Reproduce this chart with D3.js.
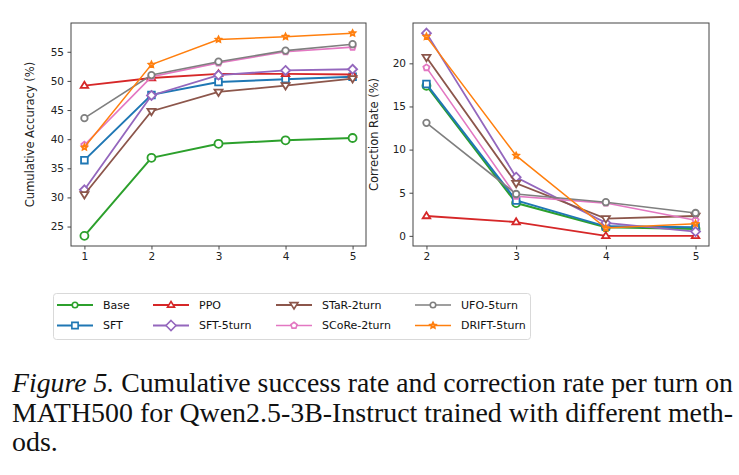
<!DOCTYPE html>
<html lang="en">
<head>
  <meta charset="utf-8">
  <title>Figure 5</title>
  <script src="https://cdn.jsdelivr.net/npm/d3@7"></script>
  <style>
    body { margin: 0; background: #fff; }
    svg { display: block; }
  </style>
</head>
<body>
  <svg width="739" height="475" id="mainsvg"></svg>
  <script>
    const svg = d3.select('#mainsvg');

    // data
    const methods = ['Base', 'SFT', 'PPO', 'SFT-5turn', 'STaR-2turn', 'SCoRe-2turn', 'UFO-5turn', 'DRIFT-5turn'];
    const colors = ['#2ca02c', '#1f77b4', '#d62728', '#9467bd', '#8c564b', '#e377c2', '#7f7f7f', '#ff7f0e'];
    const shapes = ['circle', 'square', 'triUp', 'diamond', 'triDown', 'pentagon', 'circle', 'star'];
    const turnsAcc = [1, 2, 3, 4, 5];
    const turnsCorr = [2, 3, 4, 5];
    const accTicks = [25, 30, 35, 40, 45, 50, 55];
    const corrTicks = [0, 5, 10, 15, 20];

    const accuracy = [
      [23.4, 36.8, 39.2, 39.8, 40.2],
      [36.4, 47.6, 49.8, 50.3, 50.7],
      [49.2, 50.5, 51.2, 51.2, 51.1],
      [31.3, 47.5, 51.0, 51.8, 52.0],
      [30.5, 44.8, 48.1, 49.2, 50.4],
      [39.0, 50.7, 53.1, 55.0, 55.8],
      [43.6, 51.0, 53.3, 55.2, 56.3],
      [38.6, 52.8, 57.1, 57.6, 58.2]
    ];
    const correction = [
      [17.4, 3.8, 1.0, 0.8],
      [17.6, 4.1, 1.1, 1.0],
      [2.3, 1.6, 0.0, 0.0],
      [23.5, 6.8, 1.5, 0.5],
      [20.7, 6.1, 2.0, 2.3],
      [19.5, 4.6, 3.8, 1.8],
      [13.1, 4.85, 3.9, 2.65],
      [23.1, 9.3, 0.9, 1.4]
    ];

    // styles
    const lineW = [2, 2, 1.8, 1.8, 1.8, 1.6, 1.6, 1.5];
    const markSize = [8, 7.5, 7.5, 9, 8, 6.5, 6.5, 5.5];
    const legendMark = [5.5, 7, 7, 10, 8, 6.5, 5.5, 5.5];

    function markerPath(shape, s) {
      const r = s / 2;
      if (shape === 'circle') return d3.symbol(d3.symbolCircle, Math.PI * r * r)();
      if (shape === 'square') return d3.symbol(d3.symbolSquare, s * s * 0.8)();
      if (shape === 'diamond') {
        return `M0,${-r}L${r},0L0,${r}L${-r},0Z`;
      }
      if (shape === 'triUp' || shape === 'triDown') {
        const k = shape === 'triUp' ? 1 : -1;
        return `M0,${-r * k}L${r},${r * 0.6 * k}L${-r},${r * 0.6 * k}Z`;
      }
      if (shape === 'pentagon') {
        const pts = d3.range(5).map(i => {
          const a = -Math.PI / 2 + i * 2 * Math.PI / 5;
          return [r * Math.cos(a), r * Math.sin(a)];
        });
        return 'M' + pts.map(p => p.join(',')).join('L') + 'Z';
      }
      if (shape === 'star') {
        const pts = d3.range(10).map(i => {
          const a = -Math.PI / 2 + i * Math.PI / 5;
          const rr = i % 2 === 0 ? r : r * 0.5;
          return [rr * Math.cos(a), rr * Math.sin(a)];
        });
        return 'M' + pts.map(p => p.join(',')).join('L') + 'Z';
      }
    }

    function padded(vals) {
      const [lo, hi] = d3.extent(vals);
      const p = (hi - lo) * 0.05;
      return [lo - p, hi + p];
    }

    function drawPanel(opts) {
      const { left, right, top, bottom, xs, series, yTicks, label, labelX } = opts;
      const xScale = d3.scaleLinear()
        .domain(padded(xs))
        .range([left, right]);
      const yScale = d3.scaleLinear()
        .domain(padded(series.flat()))
        .range([bottom, top]);

      const g = svg.append('g');

      const xAxis = d3.axisBottom(xScale).tickValues(xs).tickFormat(d3.format('d'))
        .tickSize(3.5).tickPadding(3.5);
      const yAxis = d3.axisLeft(yScale).tickValues(yTicks).tickFormat(d3.format('d'))
        .tickSize(3.5).tickPadding(3.5);

      const xg = g.append('g').attr('transform', `translate(0,${bottom})`).call(xAxis);
      const yg = g.append('g').attr('transform', `translate(${left},0)`).call(yAxis);
      [xg, yg].forEach(a => {
        a.select('.domain').remove();
        a.selectAll('.tick line').attr('stroke', '#333').attr('stroke-width', 0.9);
        a.selectAll('.tick text').attr('fill', '#222')
          .attr('font-family', 'DejaVu Sans').attr('font-size', 10.5);
      });

      g.append('text')
        .text(label)
        .attr('transform', `translate(${labelX},${(top + bottom) / 2}) rotate(-90)`)
        .attr('text-anchor', 'middle')
        .attr('font-family', 'DejaVu Sans')
        .attr('font-size', 11.5)
        .attr('fill', '#222');

      const line = d3.line().x((d, i) => xScale(xs[i])).y(d => yScale(d));

      series.forEach((vals, k) => {
        const sg = g.append('g');
        sg.append('path')
          .attr('d', line(vals))
          .attr('fill', 'none')
          .attr('stroke', colors[k])
          .attr('stroke-width', lineW[k]);
        sg.selectAll('path.mk')
          .data(vals)
          .enter().append('path')
          .attr('class', 'mk')
          .attr('d', markerPath(shapes[k], markSize[k]))
          .attr('transform', (d, i) => `translate(${xScale(xs[i])},${yScale(d)})`)
          .attr('fill', '#fff')
          .attr('stroke', colors[k])
          .attr('stroke-width', shapes[k] === 'star' ? 2 : 1.8);
      });

      g.append('rect')
        .attr('x', left).attr('y', top)
        .attr('width', right - left).attr('height', bottom - top)
        .attr('fill', 'none')
        .attr('stroke', '#444')
        .attr('stroke-width', 1);
    }

    drawPanel({
      left: 71, right: 366, top: 23, bottom: 246,
      xs: turnsAcc, series: accuracy, yTicks: accTicks,
      label: 'Cumulative Accuracy (%)', labelX: 34
    });
    drawPanel({
      left: 413, right: 709, top: 23, bottom: 246,
      xs: turnsCorr, series: correction, yTicks: corrTicks,
      label: 'Correction Rate (%)', labelX: 378
    });

    // legend
    const legend = svg.append('g');
    legend.append('rect')
      .attr('x', 53.5).attr('y', 293.5)
      .attr('width', 477).attr('height', 46)
      .attr('rx', 3)
      .attr('fill', '#fff')
      .attr('stroke', '#d9d9d9')
      .attr('stroke-width', 1);
    const colX = [57, 153, 276, 415];
    const rowY = [305, 325.5];
    methods.forEach((m, k) => {
      const cx = colX[Math.floor(k / 2)];
      const cy = rowY[k % 2];
      const item = legend.append('g').attr('transform', `translate(${cx},${cy})`);
      item.append('line')
        .attr('x1', 0).attr('x2', 36).attr('y1', 0).attr('y2', 0)
        .attr('stroke', colors[k]).attr('stroke-width', lineW[k]);
      item.append('path')
        .attr('d', markerPath(shapes[k], legendMark[k]))
        .attr('transform', 'translate(18,0)')
        .attr('fill', '#fff')
        .attr('stroke', colors[k])
        .attr('stroke-width', shapes[k] === 'star' ? 2 : 1.6);
      item.append('text')
        .text(m)
        .attr('x', 46)
        .attr('y', 0)
        .attr('dy', '0.36em')
        .attr('font-family', 'DejaVu Sans')
        .attr('font-size', 11)
        .attr('fill', '#111');
    });

    // caption (justified, glyphs slightly condensed like the reference)
    const cap = svg.append('g')
      .attr('font-family', 'Liberation Serif, Times New Roman, serif')
      .attr('font-size', 27)
      .attr('fill', '#111');
    const t1 = cap.append('text')
      .attr('x', 12).attr('y', 392);
    t1.append('tspan').attr('font-style', 'italic').text('Figure 5.');
    t1.append('tspan').text(' Cumulative success rate and correction rate per turn on');
    const t2 = cap.append('text')
      .attr('x', 12).attr('y', 422)
      .text('MATH500 for Qwen2.5-3B-Instruct trained with different meth-');
    const t3 = cap.append('text')
      .attr('x', 12).attr('y', 451)
      .text('ods.');
    const lineWidth = 721;
    const squeeze = lineWidth / t2.node().getComputedTextLength();
    [t1, t2].forEach(t => {
      t.attr('textLength', lineWidth).attr('lengthAdjust', 'spacingAndGlyphs');
    });
    t3.attr('textLength', t3.node().getComputedTextLength() * squeeze)
      .attr('lengthAdjust', 'spacingAndGlyphs');
  </script>
</body>
</html>
